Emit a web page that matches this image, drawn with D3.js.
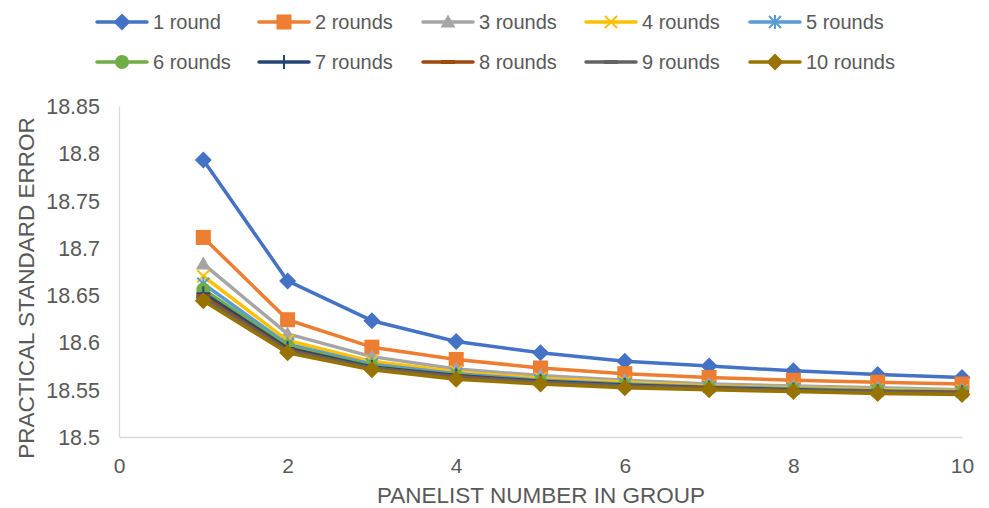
<!DOCTYPE html>
<html>
<head>
<meta charset="utf-8">
<script src="https://cdn.jsdelivr.net/npm/d3@7/dist/d3.min.js"></script>
<style>
  html, body { margin: 0; padding: 0; background: #ffffff; }
  svg { display: block; font-family: "Liberation Sans", Arial, sans-serif; }
</style>
</head>
<body>
<svg id="chart" width="989" height="508"></svg>
<script>
// Panelist number in group (x) and practical standard error per number of rounds
const panelists = [1, 2, 3, 4, 5, 6, 7, 8, 9, 10];
const seriesNames = ["1 round", "2 rounds", "3 rounds", "4 rounds", "5 rounds",
                     "6 rounds", "7 rounds", "8 rounds", "9 rounds", "10 rounds"];
const round1  = [18.793, 18.665, 18.623, 18.601, 18.589, 18.580, 18.575, 18.570, 18.566, 18.563];
const round2  = [18.711, 18.624, 18.595, 18.582, 18.573, 18.567, 18.563, 18.560, 18.558, 18.556];
const round3  = [18.683, 18.609, 18.585, 18.572, 18.565, 18.560, 18.556, 18.554, 18.552, 18.550];
const round4  = [18.670, 18.602, 18.580, 18.569, 18.562, 18.558, 18.554, 18.552, 18.550, 18.549];
const round5  = [18.662, 18.598, 18.577, 18.567, 18.560, 18.556, 18.553, 18.551, 18.549, 18.548];
const round6  = [18.656, 18.596, 18.575, 18.565, 18.559, 18.555, 18.552, 18.550, 18.549, 18.547];
const round7  = [18.652, 18.594, 18.574, 18.565, 18.559, 18.555, 18.552, 18.550, 18.548, 18.547];
const round8  = [18.649, 18.592, 18.573, 18.564, 18.558, 18.554, 18.552, 18.549, 18.548, 18.547];
const round9  = [18.647, 18.591, 18.573, 18.563, 18.558, 18.554, 18.551, 18.549, 18.548, 18.546];
const round10 = [18.644, 18.589, 18.571, 18.561, 18.556, 18.552, 18.550, 18.548, 18.546, 18.545];
const allRounds = [round1, round2, round3, round4, round5, round6, round7, round8, round9, round10];

const xTicks = [0, 2, 4, 6, 8, 10];
const yTicks = [18.5, 18.55, 18.6, 18.65, 18.7, 18.75, 18.8, 18.85];
const xTitle = "PANELIST NUMBER IN GROUP";
const yTitle = "PRACTICAL STANDARD ERROR";

const colors  = ["#4472C4", "#ED7D31", "#A5A5A5", "#FFC000", "#5B9BD5",
                 "#70AD47", "#264478", "#9E480E", "#636363", "#997300"];
const markers = ["diamond", "square", "triangle", "x", "star",
                 "circle", "plus", "dash", "dash", "diamond"];

const plot = { left: 119, right: 962, top: 106, bottom: 437 };
const textColor = "#595959";
const axisColor = "#D9D9D9";

const svg = d3.select("#chart");

const x = d3.scaleLinear().domain([0, 10]).range([plot.left, plot.right]);
const y = d3.scaleLinear().domain([18.5, 18.85]).range([plot.bottom, plot.top]);

// Axes
const xAxis = svg.append("g")
  .attr("transform", `translate(0,${plot.bottom})`)
  .call(d3.axisBottom(x).tickValues(xTicks).tickSize(0).tickFormat(d3.format("d")));
xAxis.select(".domain").attr("stroke", axisColor).attr("stroke-width", 1.3);
xAxis.selectAll("text")
  .attr("y", 29).attr("dy", "0.35em")
  .attr("fill", textColor).attr("font-size", 21)
  .attr("font-family", "Liberation Sans, Arial, sans-serif");

const yAxis = svg.append("g")
  .attr("transform", `translate(${plot.left},0)`)
  .call(d3.axisLeft(y).tickValues(yTicks).tickSize(0).tickPadding(19)
    .tickFormat(d => String(+d.toFixed(2))));
yAxis.select(".domain").attr("stroke", axisColor).attr("stroke-width", 1.3);
yAxis.selectAll("text")
  .attr("dy", "0.35em")
  .attr("fill", textColor).attr("font-size", 21.5)
  .attr("font-family", "Liberation Sans, Arial, sans-serif");

// Axis titles
svg.append("text")
  .attr("x", 541)
  .attr("y", 495)
  .attr("dy", "0.35em")
  .attr("text-anchor", "middle")
  .attr("fill", textColor).attr("font-size", 22.5)
  .text(xTitle);

svg.append("text")
  .attr("transform", "translate(26,288) rotate(-90)")
  .attr("dy", "0.35em")
  .attr("text-anchor", "middle")
  .attr("fill", textColor).attr("font-size", 22.5)
  .text(yTitle);

// Marker drawing
function drawMarker(g, type, color, cx, cy) {
  const m = g.append("g").attr("transform", `translate(${cx},${cy})`);
  switch (type) {
    case "diamond":
      m.append("path").attr("d", "M0,-8.5L8.5,0L0,8.5L-8.5,0Z").attr("fill", color);
      break;
    case "square":
      m.append("rect").attr("x", -7.5).attr("y", -7.5).attr("width", 15).attr("height", 15).attr("fill", color);
      break;
    case "triangle":
      m.append("path").attr("d", "M0,-7.5L7.5,5.5L-7.5,5.5Z").attr("fill", color);
      break;
    case "circle":
      m.append("circle").attr("r", 7).attr("fill", color);
      break;
    case "x":
      m.append("path").attr("d", "M-6,-6L6,6M6,-6L-6,6")
        .attr("stroke", color).attr("stroke-width", 2).attr("fill", "none");
      break;
    case "star":
      m.append("path").attr("d", "M-6,-6L6,6M6,-6L-6,6M0,-7L0,7")
        .attr("stroke", color).attr("stroke-width", 2).attr("fill", "none");
      break;
    case "plus":
      m.append("path").attr("d", "M-7,0L7,0M0,-7L0,7")
        .attr("stroke", color).attr("stroke-width", 2).attr("fill", "none");
      break;
    case "dash":
      m.append("path").attr("d", "M-7,0L7,0")
        .attr("stroke", color).attr("stroke-width", 4).attr("fill", "none");
      break;
  }
}

// Series lines and markers
const line = d3.line().x((d, i) => x(panelists[i])).y(d => y(d));
const seriesLayer = svg.append("g");
allRounds.forEach((vals, si) => {
  const g = seriesLayer.append("g");
  g.append("path")
    .datum(vals)
    .attr("d", line)
    .attr("fill", "none")
    .attr("stroke", colors[si])
    .attr("stroke-width", 3.5)
    .attr("stroke-linejoin", "round")
    .attr("stroke-linecap", "round");
  vals.forEach((v, i) => drawMarker(g, markers[si], colors[si], x(panelists[i]), y(v)));
});

// Legend: two rows of five entries
const legendCols = [97, 259, 423, 586, 750];
const legendRows = [22, 62];
seriesNames.forEach((name, si) => {
  const lx = legendCols[si % 5];
  const ly = legendRows[Math.floor(si / 5)];
  const g = svg.append("g");
  g.append("line")
    .attr("x1", lx).attr("x2", lx + 50).attr("y1", ly).attr("y2", ly)
    .attr("stroke", colors[si]).attr("stroke-width", 3.5).attr("stroke-linecap", "round");
  drawMarker(g, markers[si], colors[si], lx + 25, ly);
  g.append("text")
    .attr("x", lx + 56).attr("y", ly).attr("dy", "0.35em")
    .attr("fill", textColor).attr("font-size", 20)
    .text(name);
});
</script>
</body>
</html>
